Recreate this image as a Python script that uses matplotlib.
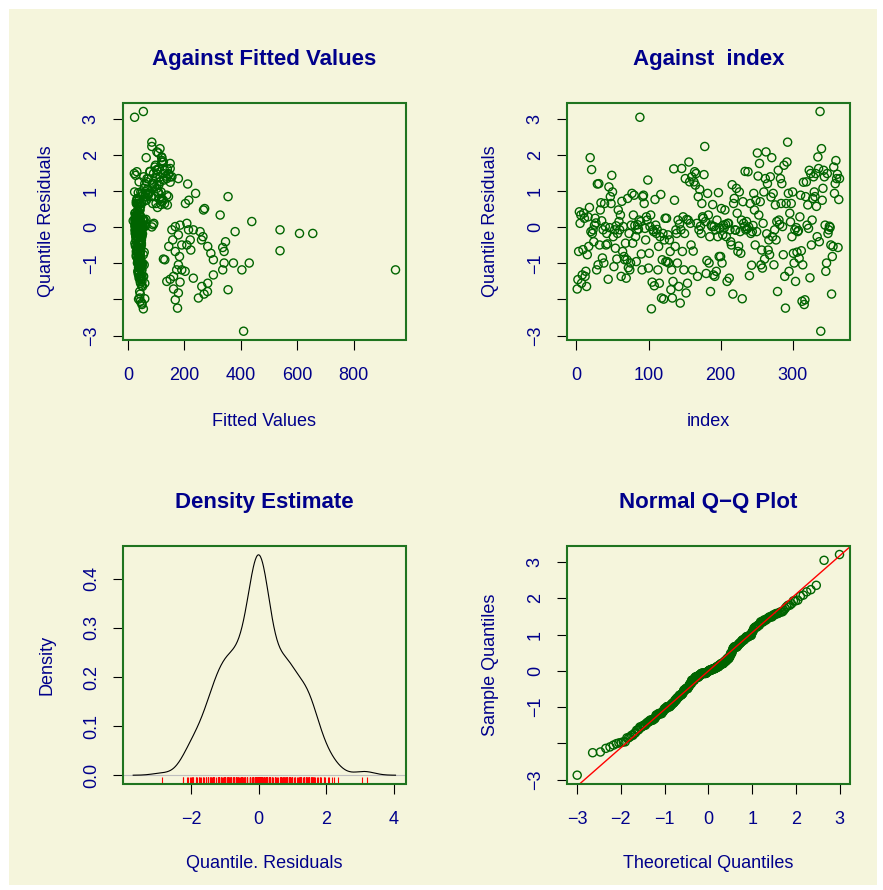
import numpy as np
import matplotlib
matplotlib.use('Agg')
import matplotlib.pyplot as plt
from matplotlib.patches import Rectangle
from statistics import NormalDist

plt.rcParams['font.family'] = ['Liberation Sans', 'DejaVu Sans']

residuals = [
    -1.71, -1.45, -0.67, 0.43, 0.11, 0.34, -1.55, -1.32, -0.62,
    0.39, 0.25, -1.36, -1.22, -1.64, -0.76, 0.29, -0.53, 0.55,
    1.93, -0.12, 1.60, -0.17, -0.07, -0.40, 0.06, 0.25, 0.12,
    -1.18, 1.20, -1.04, 1.21, -0.49, 0.48, 0.68, 0.18, -0.85,
    -0.07, -0.99, 0.66, 0.02, -0.49, -0.17, -0.46, -1.44, 1.12,
    -0.01, 0.85, 0.66, 1.44, 0.98, -0.26, -1.09, -0.07, -0.58,
    0.04, -0.88, -0.17, 0.48, 0.16, -0.07, 0.34, -1.36, 0.72,
    -0.67, 0.02, -0.81, -0.90, -0.44, -1.41, -0.90, 0.80, -1.12,
    -0.17, -1.18, -0.99, 0.06, 0.94, -0.44, 0.34, 0.89, 0.05,
    -0.26, -0.95, -0.07, 0.07, -0.05, 0.20, 3.05, 0.16, -0.74,
    -1.18, 0.85, 0.89, 0.66, -0.03, -0.35, 0.29, 0.20, 1.31,
    -1.13, -0.72, 0.02, 0.34, -2.26, -1.52, -0.07, -0.12, -1.62,
    0.77, 0.06, -0.17, -0.06, -1.18, -0.53, -1.55, -0.26, 0.91,
    -1.96, -0.90, -0.17, -1.99, -0.35, 0.25, -0.95, 0.25, -0.95,
    -0.21, -0.99, -0.35, -0.67, -1.73, -1.18, -1.96, -1.50, 1.62,
    0.75, -0.53, -0.07, -0.17, -0.99, 0.20, -1.64, 0.09, -2.10,
    -0.07, 1.63, -0.67, 0.29, -1.18, -0.17, 1.35, -1.82, 0.22,
    -1.55, 0.20, 1.81, 1.26, 0.11, -0.49, 1.40, -1.18, -0.66,
    1.26, 1.54, 1.17, 1.49, 0.11, -1.36, 0.85, -0.07, 1.05,
    0.03, -0.17, 0.66, 0.29, 0.25, 1.46, 2.24, 0.16, -1.28,
    -0.92, 0.94, 0.34, -0.99, -0.26, -1.78, 0.06, 0.02, 0.63,
    -1.32, 0.02, -1.36, -0.07, -1.22, 0.20, -0.26, 0.96, -0.81,
    -0.03, -0.81, 0.52, -0.99, -0.21, 0.06, -0.02, 0.48, 0.08,
    -0.26, -1.50, 0.11, 0.11, -1.41, -0.07, -0.40, -0.49, 1.18,
    -1.85, 0.66, 0.80, -0.07, -0.08, 1.08, 0.39, -0.67, -0.52,
    0.98, -0.12, -0.72, 0.20, -1.98, 0.71, 0.11, 0.02, 1.55,
    -0.07, 0.16, -0.04, 1.54, 0.01, -1.34, 0.66, -0.17, -1.05,
    -0.12, 0.05, 0.94, 0.48, -0.49, 0.75, -0.12, 2.06, 1.42,
    0.34, 1.77, 0.71, -1.04, -0.63, -1.13, 0.11, 0.98, -0.88,
    1.35, 2.09, -0.18, 1.21, -0.63, -0.35, -0.76, 1.40, 0.84,
    1.93, -0.26, 0.94, -1.04, -0.07, 0.62, -0.35, 0.16, -1.78,
    1.58, 0.20, 0.08, 1.35, 0.66, 1.21, 0.02, -0.76, 1.72,
    -1.36, -2.24, 0.66, 1.81, 2.36, 0.94, -1.22, 0.39, 0.15,
    0.66, -0.26, 0.98, -0.72, -0.99, -0.07, -1.50, -0.01, -0.69,
    -0.12, -0.09, -0.86, 0.29, 0.89, -0.65, -2.05, -1.04, 1.25,
    -2.14, -2.01, 0.85, 1.26, 0.06, 0.62, -0.03, 1.58, -1.40,
    1.49, -0.49, 0.20, 0.80, 1.40, 0.98, 0.85, 1.49, 0.58,
    -0.26, 1.95, 1.63, -0.40, 3.21, -2.88, 2.18, 0.75, 1.08,
    1.58, 1.40, 0.06, -1.22, -0.99, 1.49, -0.17, -0.07, 0.03,
    0.00, -0.49, -1.85, -0.81, -0.53, 1.67, 0.94, 1.21, 1.85,
    1.35, 1.47, -0.56, 0.77, 1.35,
]

fitted = [
    162, 48, 30, 35, 28, 40, 45, 38, 32,
    25, 32, 42, 36, 262, 55, 27, 33, 105,
    65, 30, 103, 26, 156, 44, 58, 30, 41,
    173, 212, 40, 91, 191, 35, 48, 19, 35,
    215, 52, 40, 34, 28, 45, 38, 150, 95,
    31, 60, 204, 28, 24, 266, 46, 29, 46,
    52, 126, 36, 268, 27, 42, 30, 54, 30,
    168, 33, 183, 131, 48, 232, 40, 120, 38,
    38, 191, 430, 185, 240, 25, 327, 138, 62,
    44, 35, 28, 90, 50, 37, 24, 46, 44,
    48, 144, 70, 32, 40, 221, 30, 56, 128,
    44, 36, 27, 43, 55, 185, 34, 256, 49,
    40, 29, 47, 36, 336, 145, 283, 32, 72,
    250, 303, 41, 38, 261, 33, 45, 26, 40,
    50, 38, 29, 44, 355, 404, 42, 138, 140,
    216, 283, 36, 28, 48, 58, 52, 35, 50,
    539, 150, 34, 46, 948, 655, 73, 179, 64,
    60, 31, 126, 67, 209, 40, 156, 50, 45,
    114, 79, 103, 126, 26, 162, 355, 30, 70,
    62, 608, 44, 34, 27, 144, 85, 38, 37,
    42, 108, 29, 374, 36, 282, 48, 168, 118,
    303, 33, 56, 232, 203, 25, 45, 37, 30,
    30, 40, 272, 341, 179, 52, 34, 42, 53,
    28, 44, 36, 92, 40, 26, 346, 48, 110,
    270, 100, 33, 45, 30, 103, 40, 341, 27,
    46, 380, 294, 28, 60, 120, 35, 27, 78,
    50, 38, 42, 32, 85, 48, 30, 36, 47,
    46, 25, 70, 43, 209, 126, 34, 108, 135,
    29, 150, 55, 179, 223, 46, 40, 108, 36,
    138, 103, 52, 60, 37, 159, 44, 114, 66,
    120, 31, 75, 52, 28, 36, 48, 439, 42,
    103, 33, 40, 179, 88, 91, 45, 30, 98,
    46, 176, 35, 120, 85, 62, 40, 27, 31,
    130, 50, 78, 42, 34, 29, 50, 44, 58,
    38, 26, 45, 32, 54, 539, 44, 58, 150,
    50, 168, 98, 40, 36, 140, 28, 103, 44,
    91, 46, 52, 112, 56, 118, 82, 144, 45,
    38, 120, 110, 42, 55, 410, 114, 66, 58,
    130, 150, 30, 36, 44, 23, 34, 48, 35,
    27, 40, 44, 31, 36, 96, 50, 86, 122,
    100, 104, 336, 33, 68,
]

titles = ["Against Fitted Values", "Against  index", "Density Estimate", "Normal Q\u2212Q Plot"]
xlabels = ["Fitted Values", "index", "Quantile. Residuals", "Theoretical Quantiles"]
ylabels = ["Quantile Residuals", "Quantile Residuals", "Density", "Sample Quantiles"]
resid_ticks = [3, 2, 1, 0, -1, -2, -3]
resid_ticklabels = ["3", "2", "1", "0", "\u22121", "", "\u22123"]
fitted_ticks = [0, 200, 400, 600, 800]
index_ticks = [0, 100, 200, 300]
dens_xticks = [-2, 0, 2, 4]
dens_yticks = [0.0, 0.1, 0.2, 0.3, 0.4]
qq_xticks = [-3, -2, -1, 0, 1, 2, 3]

BG = '#F5F5DC'
BLUE = '#00008B'
GREEN = '#006400'
BOXC = '#1f741f'
W, H = 883, 890

fig = plt.figure(figsize=(W / 100, H / 100), dpi=100, facecolor='white')
fig.patches.append(Rectangle((9 / W, 5 / H), (877 - 9) / W, (881 - 5) / H,
                             transform=fig.transFigure, facecolor=BG,
                             edgecolor='none', zorder=-10))


def px_axes(x0, y0, x1, y1):
    ax = fig.add_axes([x0 / W, (H - y1) / H, (x1 - x0) / W, (y1 - y0) / H])
    ax.set_facecolor('none')
    return ax


def rlim(v):
    lo, hi = float(np.min(v)), float(np.max(v))
    d = (hi - lo) * 0.04
    return lo - d, hi + d


def style(ax, xt, xtl, yt, ytl):
    for s in ax.spines.values():
        s.set_visible(False)
    ax.add_patch(Rectangle((0, 0), 1, 1, transform=ax.transAxes, fill=False,
                           edgecolor=BOXC, lw=1.5, clip_on=False, zorder=6))
    ax.set_xticks(xt)
    ax.set_xticklabels(xtl)
    ax.set_yticks(yt)
    ax.set_yticklabels(ytl)
    ax.tick_params(direction='out', length=7.5, width=0.8, color='black',
                   labelcolor=BLUE, labelsize=13)
    ax.tick_params(axis='x', pad=12)
    ax.tick_params(axis='y', pad=9)
    for lab in ax.get_yticklabels():
        lab.set_rotation(90)
        lab.set_va('center')


def labels(cx, cy_box, title, title_base, xl, xl_base, yl, yl_x):
    fig.text(cx / W, 1 - title_base / H, title, ha='center', va='baseline',
             fontsize=16, fontweight='bold', color=BLUE)
    fig.text(cx / W, 1 - xl_base / H, xl, ha='center', va='baseline',
             fontsize=13, color=BLUE)
    fig.text(yl_x / W, 1 - cy_box / H, yl, ha='center', va='center',
             rotation=90, fontsize=13, color=BLUE)


r = np.array(residuals, dtype=float)
f = np.array(fitted, dtype=float)
n = len(r)
idx = np.arange(1, n + 1)
MS = 34
MLW = 1.0

# ---- panel 1: against fitted values
ax1 = px_axes(122.7, 102.7, 406, 340)
ax1.scatter(f, r, s=MS, facecolors='none', edgecolors=GREEN, linewidths=MLW, zorder=3)
ax1.set_xlim(*rlim(f))
ax1.set_ylim(*rlim(r))
style(ax1, fitted_ticks, [str(t) for t in fitted_ticks], resid_ticks, resid_ticklabels)
labels(264.4, 221.4, titles[0], 64.5, xlabels[0], 426, ylabels[0], 47)

# ---- panel 2: against index
ax2 = px_axes(566.7, 102.7, 850, 340)
ax2.scatter(idx, r, s=MS, facecolors='none', edgecolors=GREEN, linewidths=MLW, zorder=3)
ax2.set_xlim(*rlim(idx))
ax2.set_ylim(*rlim(r))
style(ax2, index_ticks, [str(t) for t in index_ticks], resid_ticks, resid_ticklabels)
labels(708.3, 221.4, titles[1], 64.5, xlabels[1], 426, ylabels[1], 491)

# ---- panel 3: density estimate (Gaussian kernel, bw.nrd0, cut = 3)
sd = r.std(ddof=1)
q75, q25 = np.percentile(r, [75, 25])
bw = 0.9 * min(sd, (q75 - q25) / 1.34) * n ** -0.2
grid = np.linspace(r.min() - 3 * bw, r.max() + 3 * bw, 512)
dens = np.exp(-0.5 * ((grid[:, None] - r[None, :]) / bw) ** 2).sum(axis=1) / (n * bw * np.sqrt(2 * np.pi))
ax3 = px_axes(122.7, 546, 406, 784)
ax3.axhline(0, color='#BEBEBE', lw=0.8, zorder=1)
ax3.plot(grid, dens, color='black', lw=0.8, zorder=3)
ax3.vlines(r, 0, 0.03, transform=ax3.get_xaxis_transform(), colors='red', lw=0.8, zorder=4)
ax3.set_xlim(*rlim(grid))
ax3.set_ylim(*rlim(dens))
style(ax3, dens_xticks, ["\u22122", "0", "2", "4"], dens_yticks, ["0.0", "0.1", "0.2", "0.3", "0.4"])
labels(264.4, 665, titles[2], 508, xlabels[2], 868, ylabels[2], 47)

# ---- panel 4: normal Q-Q
nd = NormalDist()
theo = np.array([nd.inv_cdf((i - 0.5) / n) for i in range(1, n + 1)])
samp = np.sort(r)
z25, z75 = nd.inv_cdf(0.25), nd.inv_cdf(0.75)
slope = (q75 - q25) / (z75 - z25)
ax4 = px_axes(566.7, 545.7, 850, 784)
ax4.scatter(theo, samp, s=MS, facecolors='none', edgecolors=GREEN, linewidths=MLW, zorder=3)
ax4.set_xlim(*rlim(theo))
ax4.set_ylim(*rlim(samp))
ax4.axline((z25, q25), slope=slope, color='red', lw=1.0, zorder=4)
style(ax4, qq_xticks, ["\u22123", "\u22122", "\u22121", "0", "1", "2", "3"], resid_ticks, resid_ticklabels)
labels(708.3, 665, titles[3], 508, xlabels[3], 868, ylabels[3], 491)

fig.savefig('out.png', dpi=100, facecolor='white')
